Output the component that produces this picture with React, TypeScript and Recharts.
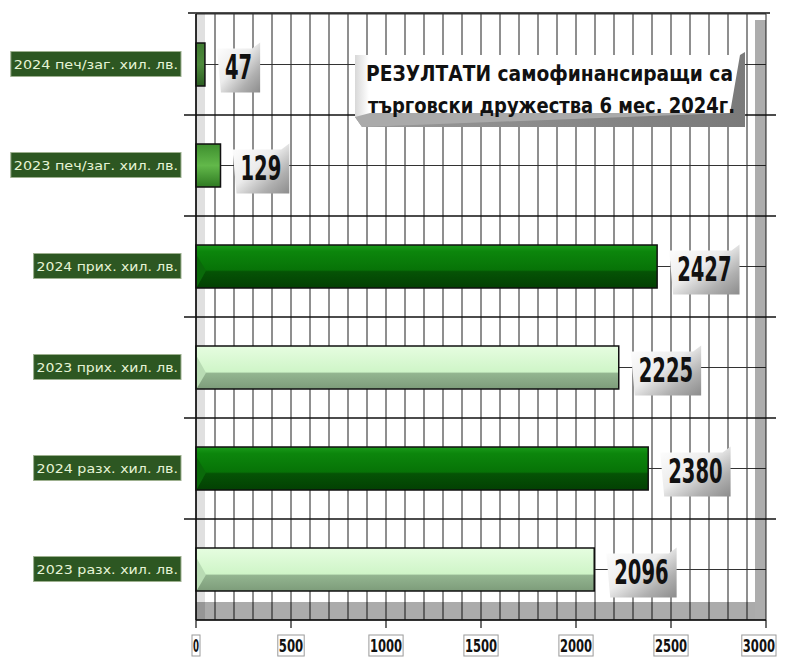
import React from 'react';
import { BarChart, Bar, XAxis, YAxis, CartesianGrid, ReferenceArea, LabelList } from 'recharts';

const categories = [
  '2024 печ/заг. хил. лв.',
  '2023 печ/заг. хил. лв.',
  '2024 прих. хил. лв.',
  '2023 прих. хил. лв.',
  '2024 разх. хил. лв.',
  '2023 разх. хил. лв.',
];
const values = [47, 129, 2427, 2225, 2380, 2096];
const barStyles = ['olive', 'mid', 'dark', 'light', 'dark', 'light'];
const xLabelTicks = [0, 500, 1000, 1500, 2000, 2500, 3000];
const gridStep = 100;
const gridTicks = Array.from({ length: 3000 / gridStep + 1 }, (_, i) => i * gridStep);
const titleLines = ['РЕЗУЛТАТИ самофинансиращи са', 'търговски дружества 6 мес. 2024г.'];

const data = categories.map((name, i) => ({ name, value: values[i], style: barStyles[i] }));

const FONT = "'Liberation Sans Narrow', 'DejaVu Sans Condensed', 'Arial Narrow', sans-serif";

const gradStops: Record<string, [number, string][]> = {
  dark: [[0, '#1a9a1a'], [0.15, '#0c860c'], [0.58, '#077307'], [0.62, '#055305'], [1, '#034003']],
  light: [[0, '#e6fde0'], [0.6, '#cff5c8'], [0.64, '#93b590'], [1, '#7d9c7a']],
  mid: [[0, '#3e8e2e'], [0.5, '#62b84a'], [1, '#2f7a22']],
  olive: [[0, '#3f7a30'], [0.5, '#4e8a3c'], [1, '#2c5e22']],
};

const BarShape = (props: any) => {
  const { x, y, width, height, index, payload } = props;
  const st = payload.style;
  const id = `bg${index}`;
  const stops = gradStops[st];
  return (
    <g>
      <defs>
        <linearGradient id={id} x1="0" y1="0" x2="0" y2="1">
          {stops.map(([o, c], k) => (
            <stop key={k} offset={o} stopColor={c} />
          ))}
        </linearGradient>
      </defs>
      <rect x={x} y={y} width={width} height={height} fill={`url(#${id})`} stroke="#111" strokeWidth={1.5} />
      {st === 'light' && (
        <polygon
          points={`${x + 1},${y + height * 0.25} ${x + 10},${y + height * 0.62} ${x + 1},${y + height - 1}`}
          fill="#b9dcb4"
        />
      )}
      {st === 'dark' && (
        <polygon
          points={`${x + 1},${y + height * 0.25} ${x + 10},${y + height * 0.6} ${x + 1},${y + height - 1}`}
          fill="#0a6a0a"
        />
      )}
    </g>
  );
};

const ValueLabel = (props: any) => {
  const { x, y, width, height, value, index } = props;
  const s = String(value);
  const tw = s.length * 13.6;
  const bw = tw + 16;
  const bx = x + width + 12;
  const cy = y + height / 2 + 3;
  const bh = 50;
  const by = cy - bh / 2;
  const id = `lg${index}`;
  return (
    <g>
      <defs>
        <linearGradient id={id} x1="0" y1="0" x2="1" y2="1">
          <stop offset="0" stopColor="#ffffff" />
          <stop offset="0.45" stopColor="#ececec" />
          <stop offset="0.75" stopColor="#b0b0b0" />
          <stop offset="1" stopColor="#8c8c8c" />
        </linearGradient>
      </defs>
      <polygon
        points={`${bx},${by + 6} ${bx + bw - 8},${by + 6} ${bx + bw},${by} ${bx + bw},${by + bh} ${bx + 4},${by + bh}`}
        fill={`url(#${id})`}
      />
      <text
        x={bx + 8}
        y={cy + 11}
        fontFamily={FONT}
        fontWeight="bold"
        fontSize={34}
        fill="#111"
        textLength={tw}
        lengthAdjust="spacingAndGlyphs"
      >
        {s}
      </text>
    </g>
  );
};

const YTick = (props: any) => {
  const { x, y, payload } = props;
  const t = String(payload.value);
  const w = t.length * 7.6 + 3;
  const right = x - 15;
  return (
    <g>
      <rect x={right - w} y={y - 13} width={w} height={25} fill="#2d5722" stroke="#9db08f" strokeWidth={1} />
      <text
        x={right - w + 3}
        y={y + 4.5}
        fontFamily={FONT}
        fontSize={13}
        fill="#e6f4d6"
        textLength={w - 6}
        lengthAdjust="spacingAndGlyphs"
      >
        {t}
      </text>
    </g>
  );
};

const XTick = (props: any) => {
  const { x, y, payload } = props;
  const v = payload.value;
  if (!xLabelTicks.includes(v)) return <g />;
  const s = String(v);
  const w = v === 0 ? 8 : s.length * 7.8 + 3;
  const left = Math.min(x - w / 2, 776 - w);
  return (
    <g>
      <line x1={x} y1={y} x2={x} y2={y + 8} stroke="#111" strokeWidth={1.2} />
      <rect x={left} y={y + 15} width={w} height={21} fill="#fff" stroke="#9a9a9a" strokeWidth={1} />
      <text
        x={left + w / 2}
        y={y + 32}
        textAnchor="middle"
        fontFamily={FONT}
        fontWeight="bold"
        fontSize={18}
        fill="#111"
        textLength={w - 2}
        lengthAdjust="spacingAndGlyphs"
      >
        {s}
      </text>
    </g>
  );
};

const BandShape = (idx: number) => (props: any) => {
  const { x, y, width, height } = props;
  const last = idx === categories.length - 1;
  return (
    <g>
      <rect x={x} y={y} width={9} height={height} fill="#000" fillOpacity={0.12} />
      <rect x={x + width - 11} y={y + (idx === 0 ? 6 : 0)} width={11} height={height - (idx === 0 ? 6 : 0)} fill="#000" fillOpacity={0.32} />
      {idx === 0 && <line x1={x - 8} y1={y - 1} x2={x + width + 4} y2={y - 1} stroke="#111" strokeWidth={1.5} />}
      {!last && <line x1={x - 12} y1={y + height} x2={x + width + 10} y2={y + height} stroke="#111" strokeWidth={1.3} />}
      {last && <rect x={x} y={y + height - 18} width={width - 11} height={18} fill="#000" fillOpacity={0.33} />}
    </g>
  );
};

const TitleBox = () => (
  <svg width={785} height={664} style={{ position: 'absolute', left: 0, top: 0, pointerEvents: 'none' }}>
    <defs>
      <linearGradient id="tbBottom" x1="0" y1="0" x2="1" y2="0">
        <stop offset="0" stopColor="#9a9a9a" />
        <stop offset="1" stopColor="#7a7a7a" />
      </linearGradient>
      <linearGradient id="tbLeft" x1="0" y1="0" x2="1" y2="0">
        <stop offset="0" stopColor="#d8d8d8" />
        <stop offset="1" stopColor="#ffffff" />
      </linearGradient>
    </defs>
    <rect x={355} y={55} width={385} height={72} fill="#fff" />
    <rect x={355} y={55} width={14} height={62} fill="url(#tbLeft)" />
    <polygon points="355,117 730,113 740,55 745,52 745,127 362,127" fill="url(#tbBottom)" />
    <polygon points="355,117 370,113 730,113 362,127" fill="#aaa" />
    <text x={366} y={81} fontFamily={FONT} fontWeight="bold" fontSize={21} fill="#111" textLength={367} lengthAdjust="spacingAndGlyphs">
      {titleLines[0]}
    </text>
    <text x={368} y={113} fontFamily={FONT} fontWeight="bold" fontSize={21} fill="#111" textLength={367} lengthAdjust="spacingAndGlyphs">
      {titleLines[1]}
    </text>
  </svg>
);

export default function App() {
  return (
    <div style={{ position: 'absolute', left: 0, top: 0, width: 785, height: 664, background: '#fff' }}>
      <BarChart
        width={785}
        height={664}
        data={data}
        layout="vertical"
        margin={{ top: 14, right: 19, bottom: 0, left: 0 }}
      >
        <CartesianGrid stroke="#333" strokeWidth={1.1} horizontal={true} vertical={true} />
        {categories.map((c, i) => (
          <ReferenceArea key={c} y1={c} y2={c} ifOverflow="visible" shape={BandShape(i)} />
        ))}
        <XAxis
          type="number"
          domain={[0, 3000]}
          ticks={gridTicks}
          interval={0}
          height={44}
          tickLine={false}
          tickSize={0}
          tickMargin={0}
          axisLine={{ stroke: '#111', strokeWidth: 1.3 }}
          tick={<XTick />}
        />
        <YAxis
          type="category"
          dataKey="name"
          width={196}
          tickLine={false}
          tickSize={0}
          tickMargin={0}
          axisLine={{ stroke: '#111', strokeWidth: 1.5 }}
          tick={<YTick />}
          interval={0}
        />
        <Bar dataKey="value" barSize={43} isAnimationActive={false} shape={<BarShape />}>
          <LabelList dataKey="value" content={<ValueLabel />} />
        </Bar>
      </BarChart>
      <TitleBox />
    </div>
  );
}
